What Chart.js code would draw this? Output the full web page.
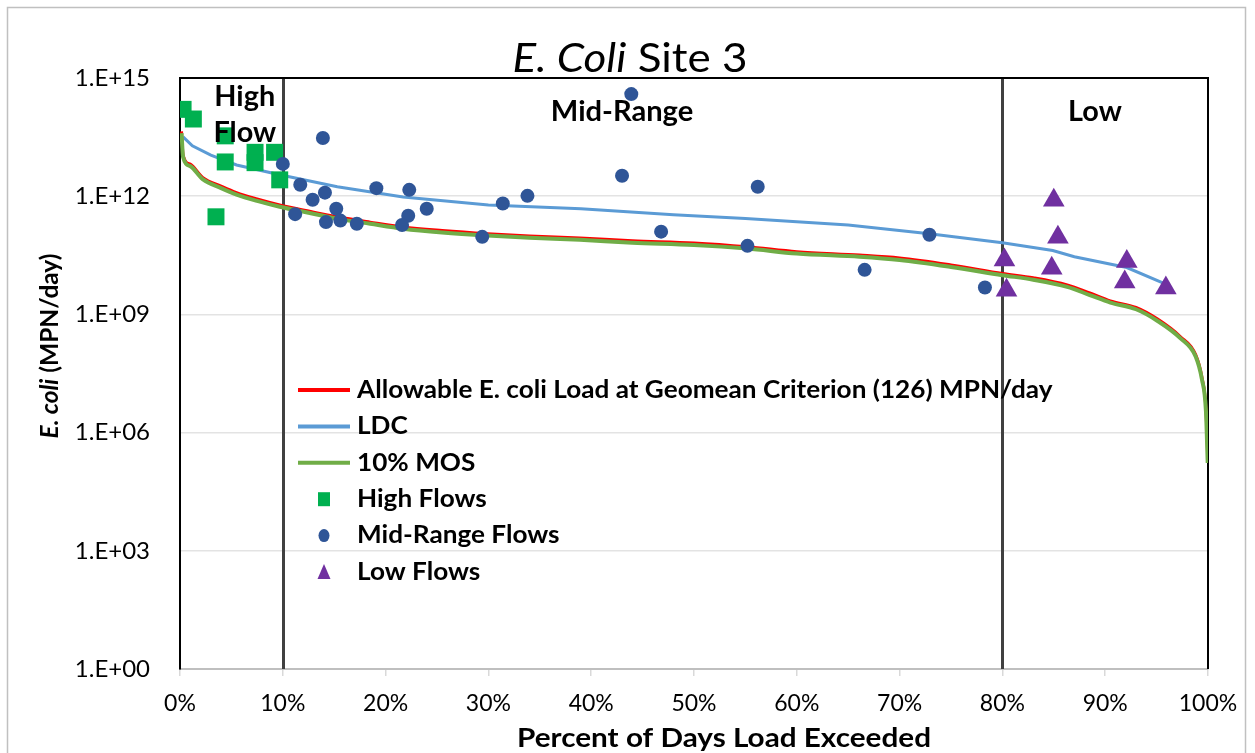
<!DOCTYPE html>
<html>
<head>
<meta charset="utf-8">
<script src="https://cdn.jsdelivr.net/npm/chart.js@4.4.1/dist/chart.umd.min.js"></script>
<style>
  html, body { margin: 0; padding: 0; background: #fff; }
</style>
</head>
<body>
<canvas id="myChart" width="1255" height="753"></canvas>
<script>
// allowable load curve (red) and 10% MOS (green), percent of days exceeded
var allowPct = [0.15, 0.3, 1, 2.2, 4, 5.5, 7.5, 9.7, 12.5, 15.3, 18.5, 21.7, 25.5, 29.9, 34, 38.9, 44, 50, 55.2, 60, 66.1, 70, 75, 80, 83, 86.3, 88.5, 90.5, 93, 95.1, 97.3, 98.8, 99.4, 99.8, 99.97];
var allowVals = [4.4e13, 1.1e13, 6.5e12, 3.0e12, 1.8e12, 1.23e12, 8.5e11, 6.0e11, 4.2e11, 3.0e11, 2.2e11, 1.66e11, 1.35e11, 1.12e11, 9.8e10, 8.7e10, 7.4e10, 6.5e10, 5.2e10, 3.9e10, 3.2e10, 2.7e10, 1.8e10, 1.1e10, 8.5e9, 5.6e9, 3.5e9, 2.2e9, 1.5e9, 7.6e8, 2.75e8, 9.5e7, 2.6e7, 3.9e6, 2.5e5];
var mosVals = [4.0e13, 9.9e12, 5.8e12, 2.7e12, 1.6e12, 1.1e12, 7.6e11, 5.4e11, 3.8e11, 2.7e11, 2.0e11, 1.5e11, 1.2e11, 1.0e11, 8.8e10, 7.8e10, 6.6e10, 5.8e10, 4.7e10, 3.5e10, 2.9e10, 2.4e10, 1.6e10, 9.9e9, 7.6e9, 5.0e9, 3.1e9, 2.0e9, 1.35e9, 6.8e8, 2.5e8, 8.5e7, 2.3e7, 3.5e6, 1.7e5];

// load duration curve (blue)
var ldcPct = [0.3, 1.2, 3, 5.5, 9.7, 15.3, 21.7, 30, 39, 48, 55, 65, 72.9, 80, 84.9, 87, 92.1, 95.6];
var ldcVals = [3.2e13, 1.9e13, 1.1e13, 6.2e12, 3.5e12, 1.74e12, 9.5e11, 6.0e11, 4.8e11, 3.4e11, 2.7e11, 1.86e11, 1.12e11, 6.6e10, 4.2e10, 2.9e10, 1.55e10, 6.3e9];

// samples
var highPct = [0.3, 1.3, 4.4, 4.4, 7.3, 7.3, 9.2, 9.7, 3.5];
var highVals = [1.6e14, 9.1e13, 3.4e13, 7.4e12, 1.3e13, 7.1e12, 1.3e13, 2.6e12, 3.0e11];

var midPct = [10.0, 13.9, 11.7, 12.9, 14.1, 15.2, 11.2, 14.2, 15.6, 17.2, 19.1, 22.3, 24.0, 22.2, 21.6, 29.4, 31.4, 33.8, 43.9, 43.0, 46.8, 56.2, 55.2, 66.6, 72.9, 78.3];
var midVals = [6.6e12, 3.0e13, 1.95e12, 8.1e11, 1.23e12, 4.8e11, 3.5e11, 2.2e11, 2.4e11, 2.0e11, 1.6e12, 1.45e12, 4.8e11, 3.2e11, 1.86e11, 9.3e10, 6.5e11, 1.02e12, 3.9e14, 3.3e12, 1.26e11, 1.74e12, 5.5e10, 1.35e10, 1.05e11, 4.8e9];

var lowPct = [80.2, 80.4, 85.0, 85.4, 84.8, 92.1, 91.9, 95.9];
var lowVals = [2.4e10, 4.1e9, 7.9e11, 9.1e10, 1.48e10, 2.2e10, 6.6e9, 4.7e9];

var yTickExps = [0, 3, 6, 9, 12, 15];
var flowBreaks = [10, 80];

var FONT = 'Lato, "Open Sans", sans-serif';

function pts(xs, ys) {
  return xs.map(function (x, i) { return { x: x, y: ys[i] }; });
}

// text squeezed/stretched horizontally, like the wider Excel fonts
function wideText(ctx, parts, x, y, sx, align) {
  var total = 0;
  parts.forEach(function (p) { ctx.font = p[1]; total += ctx.measureText(p[0]).width; });
  var start = align === 'center' ? -total / 2 : 0;
  ctx.save();
  ctx.translate(x, y);
  ctx.scale(sx, 1);
  ctx.textAlign = 'left';
  parts.forEach(function (p) {
    ctx.font = p[1];
    ctx.fillText(p[0], start, 0);
    start += ctx.measureText(p[0]).width;
  });
  ctx.restore();
}

var decor = {
  id: 'decor',
  beforeDraw: function (chart) {
    var ctx = chart.ctx;
    ctx.save();
    ctx.fillStyle = '#fff';
    ctx.fillRect(0, 0, chart.width, chart.height);
    ctx.strokeStyle = '#c0c0c0';
    ctx.lineWidth = 1.5;
    ctx.strokeRect(7.5, 7.5, 1238, 800);
    ctx.restore();
  },
  beforeDatasetsDraw: function (chart) {
    var ctx = chart.ctx, a = chart.chartArea, x = chart.scales.x;
    ctx.save();
    ctx.strokeStyle = '#404040';
    ctx.lineWidth = 3;
    flowBreaks.forEach(function (v) {
      var px = Math.round(x.getPixelForValue(v)) + 0.5;
      ctx.beginPath();
      ctx.moveTo(px, a.top);
      ctx.lineTo(px, a.bottom);
      ctx.stroke();
    });
    ctx.strokeStyle = '#000';
    ctx.lineWidth = 2;
    ctx.beginPath();
    ctx.moveTo(a.left, a.top);
    ctx.lineTo(a.right, a.top);
    ctx.lineTo(a.right, a.bottom);
    ctx.stroke();
    ctx.restore();
  },
  afterDraw: function (chart) {
    var ctx = chart.ctx, a = chart.chartArea, x = chart.scales.x;
    ctx.save();
    ctx.fillStyle = '#000';
    ctx.textBaseline = 'alphabetic';

    // title
    wideText(ctx, [['E. Coli', 'italic 40px ' + FONT], [' Site 3', '40px ' + FONT]], 630, 72, 1.1, 'center');

    // y axis title
    ctx.save();
    ctx.translate(50, 346);
    ctx.rotate(-Math.PI / 2);
    ctx.textBaseline = 'middle';
    wideText(ctx, [['E. coli', 'italic bold 24px ' + FONT], [' (MPN/day)', 'bold 24px ' + FONT]], 0, 0, 1.02, 'center');
    ctx.restore();

    // x axis title
    ctx.textBaseline = 'middle';
    wideText(ctx, [['Percent of Days Load Exceeded', 'bold 27px ' + FONT]], 724, 738, 1.1, 'center');

    // flow zone labels
    var zf = 'bold 28px ' + FONT;
    wideText(ctx, [['High', zf]], x.getPixelForValue(6.3), a.top + 19, 1.03, 'center');
    wideText(ctx, [['Flow', zf]], x.getPixelForValue(6.3), a.top + 55, 1.03, 'center');
    wideText(ctx, [['Mid-Range', zf]], x.getPixelForValue(43), a.top + 34, 1.04, 'center');
    wideText(ctx, [['Low', zf]], x.getPixelForValue(89), a.top + 34, 1.03, 'center');

    // legend
    var lf = 'bold 24px ' + FONT;
    chart.data.datasets.forEach(function (ds, row) {
      var ry = 390 + row * 36.4;
      if (ds.showLine) {
        ctx.strokeStyle = ds.borderColor;
        ctx.lineWidth = 4;
        ctx.beginPath();
        ctx.moveTo(298, ry);
        ctx.lineTo(350, ry);
        ctx.stroke();
      } else {
        ctx.fillStyle = ds.backgroundColor;
        var cx = 324;
        ctx.beginPath();
        if (ds.pointStyle === 'rect') {
          ctx.rect(cx - 6, ry - 7, 12, 14);
        } else if (ds.pointStyle === 'circle') {
          ctx.ellipse(cx, ry, 5.5, 6.5, 0, 0, Math.PI * 2);
        } else {
          ctx.moveTo(cx, ry - 8);
          ctx.lineTo(cx + 6.5, ry + 7);
          ctx.lineTo(cx - 6.5, ry + 7);
          ctx.closePath();
        }
        ctx.fill();
      }
      ctx.fillStyle = '#000';
      wideText(ctx, [[ds.label, lf]], 357, ry, 1.09, 'left');
    });
    ctx.restore();
  }
};

new Chart(document.getElementById('myChart'), {
  type: 'scatter',
  data: {
    datasets: [
      {
        label: 'Allowable E. coli Load at Geomean Criterion (126) MPN/day',
        data: pts(allowPct, allowVals),
        showLine: true,
        borderColor: '#ff0000',
        borderWidth: 3,
        pointRadius: 0,
        cubicInterpolationMode: 'monotone',
        order: 6
      },
      {
        label: 'LDC',
        data: pts(ldcPct, ldcVals),
        showLine: true,
        borderColor: '#5b9bd5',
        borderWidth: 3,
        pointRadius: 0,
        tension: 0,
        order: 5
      },
      {
        label: '10% MOS',
        data: pts(allowPct, mosVals),
        showLine: true,
        borderColor: '#70ad47',
        borderWidth: 4,
        pointRadius: 0,
        cubicInterpolationMode: 'monotone',
        order: 4
      },
      {
        label: 'High Flows',
        data: pts(highPct, highVals),
        pointStyle: 'rect',
        pointRadius: 12,
        backgroundColor: '#00b050',
        borderColor: '#00b050',
        borderWidth: 0,
        order: 3
      },
      {
        label: 'Mid-Range Flows',
        data: pts(midPct, midVals),
        pointStyle: 'circle',
        pointRadius: 7,
        backgroundColor: '#2f5597',
        borderColor: '#2f5597',
        borderWidth: 0,
        order: 2
      },
      {
        label: 'Low Flows',
        data: pts(lowPct, lowVals),
        pointStyle: 'triangle',
        pointRadius: 12.5,
        backgroundColor: '#7030a0',
        borderColor: '#7030a0',
        borderWidth: 0,
        order: 1
      }
    ]
  },
  options: {
    responsive: false,
    devicePixelRatio: 1,
    animation: false,
    layout: { padding: { top: 78, right: 47, bottom: 0, left: 0 } },
    plugins: {
      legend: { display: false },
      tooltip: { enabled: false }
    },
    scales: {
      x: {
        type: 'linear',
        min: 0,
        max: 100,
        afterFit: function (s) { s.height = 84; },
        ticks: {
          stepSize: 10,
          padding: 14,
          color: '#000',
          font: { family: FONT, size: 23 },
          callback: function (v) { return v + '%'; }
        },
        grid: { drawOnChartArea: false, drawTicks: true, tickLength: 7, color: '#d9d9d9', lineWidth: 1.5 },
        border: { color: '#bfbfbf', width: 2 }
      },
      y: {
        type: 'logarithmic',
        min: 1,
        max: 1e15,
        afterFit: function (s) { s.width = 180; },
        afterBuildTicks: function (s) {
          s.ticks = yTickExps.map(function (e) { return { value: Math.pow(10, e) }; });
        },
        ticks: {
          padding: 30,
          color: '#000',
          font: { family: FONT, size: 24 },
          callback: function (v) {
            var e = Math.round(Math.log10(v));
            return '1.E+' + (e < 10 ? '0' + e : e);
          }
        },
        grid: { drawTicks: false, color: '#e3e3e3', lineWidth: 1.5 },
        border: { color: '#000', width: 2 }
      }
    }
  },
  plugins: [decor]
});
</script>
</body>
</html>
